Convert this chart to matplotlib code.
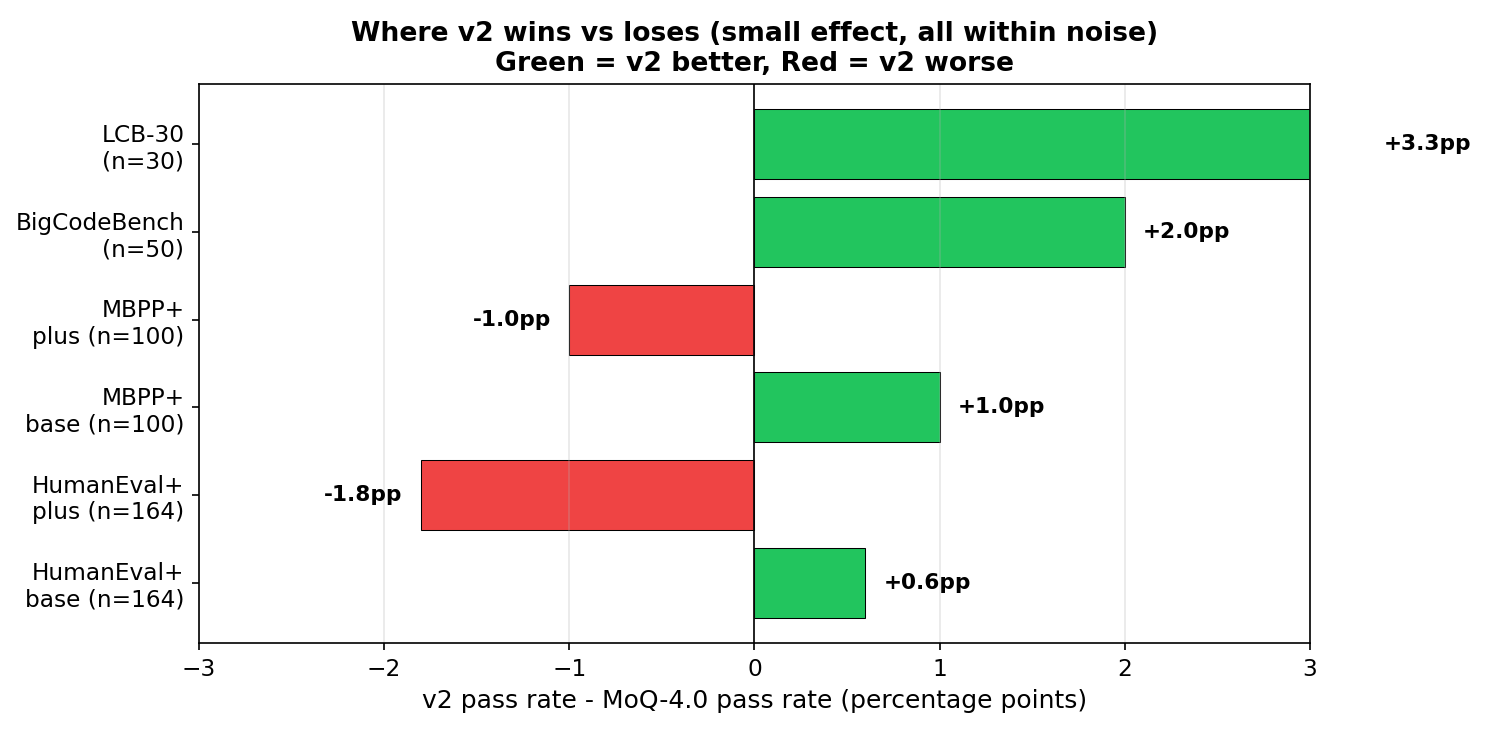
import numpy as np
import matplotlib.pyplot as plt

benchmarks = [
    "HumanEval+\nbase (n=164)",
    "HumanEval+\nplus (n=164)",
    "MBPP+\nbase (n=100)",
    "MBPP+\nplus (n=100)",
    "BigCodeBench\n(n=50)",
    "LCB-30\n(n=30)",
]
deltas = [0.6, -1.8, 1.0, -1.0, 2.0, 3.3]

green = "#22c55e"
red = "#ef4444"

fig = plt.figure(figsize=(9.9, 4.867), dpi=150)
ax = fig.add_axes([0.134, 0.119, 0.748, 0.766])

y = np.arange(len(benchmarks))
colors = [green if d > 0 else red for d in deltas]
ax.barh(y, deltas, height=0.8, color=colors, edgecolor="black", linewidth=0.5)
ax.axvline(0, color="black", linewidth=0.8)

for yi, d in zip(y, deltas):
    if d > 0:
        ax.text(d + 0.1, yi, f"+{d:.1f}pp", ha="left", va="center",
                fontsize=10.4, fontweight="bold", clip_on=False)
    else:
        ax.text(d - 0.1, yi, f"{d:.1f}pp", ha="right", va="center",
                fontsize=10.4, fontweight="bold", clip_on=False)

ax.set_yticks(y)
ax.set_yticklabels(benchmarks, fontsize=11.2)
ax.set_xlim(-3, 3)
ax.tick_params(axis="x", labelsize=11.2)
ax.grid(axis="x", alpha=0.3)
ax.set_xlabel("v2 pass rate - MoQ-4.0 pass rate (percentage points)", fontsize=12)
ax.set_title("Where v2 wins vs loses (small effect, all within noise)\n"
             "Green = v2 better, Red = v2 worse", fontsize=12.8, fontweight="bold")

fig.savefig("out.png", dpi=150)
